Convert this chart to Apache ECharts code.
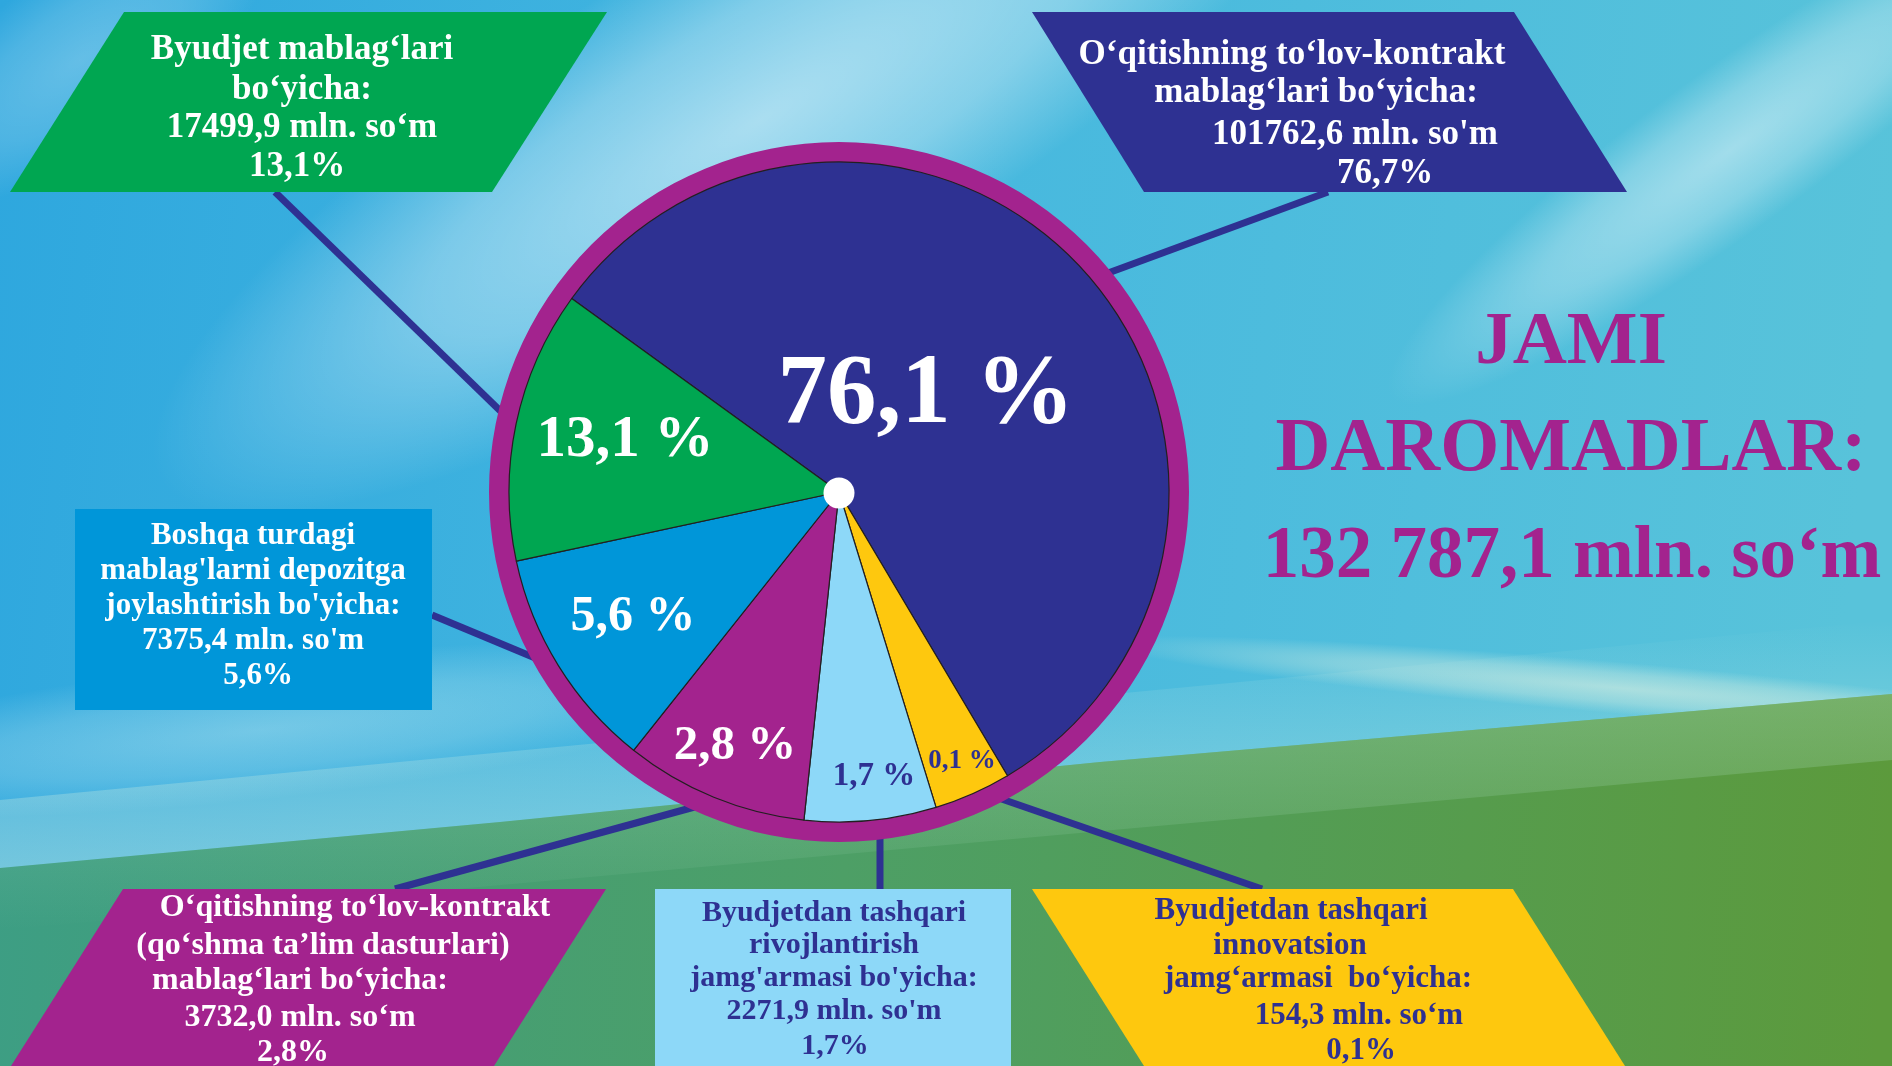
<!DOCTYPE html>
<html><head><meta charset="utf-8">
<script src="https://cdn.jsdelivr.net/npm/echarts@6/dist/echarts.min.js"></script>
<style>html,body{margin:0;padding:0;overflow:hidden}#c{width:1892px;height:1066px}</style>
</head><body><div id="c"></div>
<script>
// ---------- data ----------
const categories = [
  "O‘qitishning to‘lov-kontrakt mablag‘lari",
  "Byudjetdan tashqari innovatsion jamg‘armasi",
  "Byudjetdan tashqari rivojlantirish jamg'armasi",
  "O‘qitishning to‘lov-kontrakt (qo‘shma ta’lim dasturlari)",
  "Boshqa turdagi mablag'larni depozitga joylashtirish",
  "Byudjet mablag‘lari"
];
const amounts = ["101762,6", "154,3", "2271,9", "3732,0", "7375,4", "17499,9"];
const boxShares = ["76,7%", "0,1%", "1,7%", "2,8%", "5,6%", "13,1%"];
const sliceLabels = ["76,1 %", "0,1 %", "1,7 %", "2,8 %", "5,6 %", "13,1 %"];
// arc sizes of the slices as drawn in the picture (degrees)
const sliceArcs = [203.4, 13.6, 23.2, 32.4, 39.4, 48.0];
const totalTitle = ["JAMI", "DAROMADLAR:", "132 787,1 mln. so‘m"];
const boxLines = [
  ["O‘qitishning to‘lov-kontrakt", "mablag‘lari bo‘yicha:", amounts[0] + " mln. so'm", boxShares[0]],
  ["Byudjetdan tashqari", "innovatsion", "jamg‘armasi  bo‘yicha:", amounts[1] + " mln. so‘m", boxShares[1]],
  ["Byudjetdan tashqari", "rivojlantirish", "jamg'armasi bo'yicha:", amounts[2] + " mln. so'm", boxShares[2]],
  ["O‘qitishning to‘lov-kontrakt", "(qo‘shma ta’lim dasturlari)", "mablag‘lari bo‘yicha:", amounts[3] + " mln. so‘m", boxShares[3]],
  ["Boshqa turdagi", "mablag'larni depozitga", "joylashtirish bo'yicha:", amounts[4] + " mln. so'm", boxShares[4]],
  ["Byudjet mablag‘lari", "bo‘yicha:", amounts[5] + " mln. so‘m", boxShares[5]]
];

// ---------- styles / layout ----------
const NAVY = '#2e3192', GREEN = '#00a651', BLUE = '#0096d9', PURPLE = '#a3238e', LBLUE = '#8dd8f8', YELLOW = '#fec80e';
const sliceColors = [NAVY, YELLOW, LBLUE, PURPLE, BLUE, GREEN];
const FONT = '"Liberation Serif", "Times New Roman", serif';
const CX = 839, CY = 492;

const chart = echarts.init(document.getElementById('c'), null, {renderer: 'canvas'});
const G = [];
function txt(t, x, baseline, size, color) {
  G.push({type: 'text', x: x, y: baseline - 0.30 * size, z: 10, silent: true,
    style: {text: t, fill: color, font: 'bold ' + size + 'px ' + FONT,
      textAlign: 'center', textVerticalAlign: 'middle', align: 'center', verticalAlign: 'middle'}});
}
function ctxt(t, x, y, size, color) {
  G.push({type: 'text', x: x, y: y, z: 10, silent: true,
    style: {text: t, fill: color, font: 'bold ' + size + 'px ' + FONT,
      textAlign: 'center', textVerticalAlign: 'middle', align: 'center', verticalAlign: 'middle'}});
}
const LG = (x, y, x2, y2, stops, g) => new echarts.graphic.LinearGradient(x, y, x2, y2, stops.map(s => ({offset: s[0], color: s[1]})), g);
const RG = (stops) => new echarts.graphic.RadialGradient(0.5, 0.5, 0.5, stops.map(s => ({offset: s[0], color: s[1]})));
function glow(cx, cy, a, b, rotDeg, color, alpha) {
  G.push({type: 'circle', z: 0, silent: true, x: cx, y: cy, scaleX: a / 100, scaleY: b / 100,
    rotation: rotDeg * Math.PI / 180, shape: {cx: 0, cy: 0, r: 100},
    style: {fill: RG([[0, 'rgba(' + color + ',' + alpha + ')'], [0.55, 'rgba(' + color + ',' + (alpha * 0.6) + ')'], [1, 'rgba(' + color + ',0)']])}});
}

// background sky
G.push({type: 'rect', z: 0, silent: true, shape: {x: 0, y: 0, width: 1892, height: 1066},
  style: {fill: LG(0, 0, 1, 0.2, [[0, '#2ea7de'], [0.45, '#45b7df'], [1, '#58c3da']])}});
// soft light streaks
glow(760, 120, 700, 190, 31, '255,255,255', 0.55);
glow(1730, 150, 420, 80, 36, '255,255,255', 0.45);
glow(80, 60, 220, 90, 35, '255,255,255', 0.25);
glow(260, 730, 520, 70, 6, '230,250,245', 0.35);
// horizon haze
G.push({type: 'polygon', z: 0, silent: true, shape: {points: [[0, 800], [1892, 620], [1892, 700], [0, 872]]},
  style: {fill: LG(0, 0, 0, 1, [[0, 'rgba(210,240,230,0)'], [1, 'rgba(200,235,220,0.45)']])}});
glow(1620, 688, 520, 26, -5, '220,240,225', 0.6);
// green hill
G.push({type: 'polygon', z: 0, silent: true, shape: {points: [[0, 868], [500, 822], [1100, 762], [1892, 694], [1892, 1066], [0, 1066]]},
  style: {fill: LG(0, 0, 1, 0.3, [[0, '#3d9e84'], [0.45, '#4d9f66'], [1, '#5c9a3c']])}});
G.push({type: 'polygon', z: 0, silent: true, shape: {points: [[0, 868], [500, 822], [1100, 762], [1892, 694], [1892, 760], [0, 930]]},
  style: {fill: LG(0, 0, 0, 1, [[0, 'rgba(170,220,190,0.35)'], [1, 'rgba(170,220,190,0)']])}});

// connector lines
const conn = [[[275, 192], [520, 430]], [[1328, 192], [1100, 276]], [[432, 615], [540, 660]],
  [[395, 889], [720, 800]], [[880, 820], [880, 889]], [[990, 795], [1262, 889]]];
conn.forEach(l => G.push({type: 'line', z: 1, silent: true,
  shape: {x1: l[0][0], y1: l[0][1], x2: l[1][0], y2: l[1][1]}, style: {stroke: NAVY, lineWidth: 7}}));

// boxes
G.push({type: 'polygon', z: 3, silent: true, shape: {points: [[1032, 12], [1514, 12], [1627, 192], [1144, 192]]}, style: {fill: NAVY}});
G.push({type: 'polygon', z: 3, silent: true, shape: {points: [[1032, 889], [1513, 889], [1625, 1066], [1144, 1066]]}, style: {fill: YELLOW}});
G.push({type: 'rect', z: 3, silent: true, shape: {x: 655, y: 889, width: 356, height: 200}, style: {fill: LBLUE}});
G.push({type: 'polygon', z: 3, silent: true, shape: {points: [[123, 889], [606, 889], [494, 1066], [11, 1066]]}, style: {fill: PURPLE}});
G.push({type: 'rect', z: 3, silent: true, shape: {x: 75, y: 509, width: 357, height: 201}, style: {fill: BLUE}});
G.push({type: 'polygon', z: 3, silent: true, shape: {points: [[124, 12], [607, 12], [492, 192], [10, 192]]}, style: {fill: GREEN}});

// box texts
const boxLayout = [
  {x: [1292, 1316, 1355, 1385], b: [65, 103, 145, 184], s: 35, c: '#fff'},
  {x: [1291, 1290, 1318, 1359, 1361], b: [920, 955, 988, 1025, 1060], s: 31, c: NAVY},
  {x: [834, 834, 834, 834, 835], b: [922, 954, 987, 1020, 1055], s: 30, c: NAVY},
  {x: [355, 323, 300, 300, 293], b: [917, 955, 990, 1027, 1062], s: 32, c: '#fff'},
  {x: [253, 253, 253, 253, 258], b: [545, 580, 615, 650, 685], s: 31, c: '#fff'},
  {x: [302, 302, 302, 297], b: [60, 100, 138, 177], s: 35, c: '#fff'}
];
boxLines.forEach((lines, i) => {
  const L = boxLayout[i];
  lines.forEach((t, j) => txt(t, L.x[j], L.b[j], L.s, L.c));
});

// slice labels
const sliceLabelPos = [[926, 396, 99, '#fff'], [962, 761, 27, NAVY], [874, 776, 33, NAVY],
  [735, 746, 49, '#fff'], [633, 617, 50, '#fff'], [625, 441, 59, '#fff']];
sliceLabels.forEach((t, i) => { const p = sliceLabelPos[i]; ctxt(t, p[0], p[1], p[2], p[3]); });

// center dot
G.push({type: 'circle', z: 10, silent: true, shape: {cx: CX, cy: CY + 1, r: 15.5}, style: {fill: '#fff'}});

// total title
txt(totalTitle[0], 1571, 366, 75, PURPLE);
txt(totalTitle[1], 1571, 473, 76, PURPLE);
txt(totalTitle[2], 1572, 580, 73, PURPLE);

chart.setOption({
  animation: false,
  graphic: {elements: G},
  series: [
    {type: 'pie', z: 2, silent: true, center: [CX, CY], radius: [328, 350], startAngle: 90,
      label: {show: false}, labelLine: {show: false},
      data: [{value: 1, itemStyle: {color: PURPLE}}]},
    {type: 'pie', z: 2, silent: true, center: [CX, CY], radius: [0, 330], startAngle: 144.1, clockwise: true,
      avoidLabelOverlap: false, label: {show: false}, labelLine: {show: false},
      itemStyle: {borderColor: '#231f20', borderWidth: 1.2},
      data: sliceArcs.map((v, i) => ({name: categories[i], value: v, itemStyle: {color: sliceColors[i]}}))}
  ]
});
</script></body></html>
